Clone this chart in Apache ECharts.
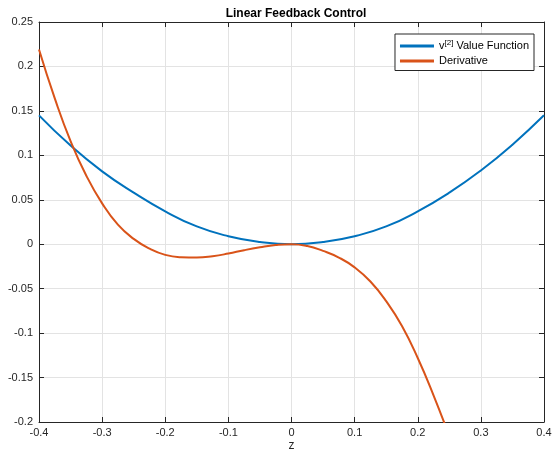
<!DOCTYPE html>
<html>
<head>
<meta charset="utf-8">
<script src="https://cdn.jsdelivr.net/npm/echarts@6/dist/echarts.min.js"></script>
<style>
  html, body { margin: 0; padding: 0; background: #fff; }
  #chart { width: 556px; height: 455px; }
</style>
</head>
<body>
<div id="chart"></div>
<script>
// value function samples
const zValue = [-0.4, -0.35, -0.3, -0.25, -0.2, -0.15, -0.1, -0.05, 0, 0.05, 0.1, 0.15, 0.2, 0.25, 0.3, 0.35, 0.4];
const valueFn = [0.145, 0.111, 0.082, 0.058, 0.037, 0.020, 0.009, 0.0025, 0, 0.0025, 0.009, 0.020, 0.037, 0.058, 0.083, 0.112, 0.145];

// derivative samples
const zDeriv = [-0.4, -0.375, -0.35, -0.325, -0.3, -0.275, -0.25, -0.225, -0.2, -0.175, -0.15, -0.125, -0.1, -0.075, -0.05, -0.025, 0,
  0.025, 0.05, 0.075, 0.1, 0.125, 0.15, 0.175, 0.2, 0.225, 0.25];
const derivative = [0.219, 0.164, 0.116, 0.077, 0.046, 0.022, 0.006, -0.005, -0.012, -0.0146, -0.015, -0.0135, -0.0105, -0.0067, -0.0035, -0.001, 0,
  -0.002, -0.0075, -0.015, -0.026, -0.042, -0.064, -0.092, -0.128, -0.170, -0.216];

const FONT = 'Liberation Sans, Arial, Helvetica, sans-serif';
const AXIS = '#262626';

const chart = echarts.init(document.getElementById('chart'));

const hiddenAxis = {
  show: true,
  axisLine: { show: true, onZero: false, lineStyle: { color: AXIS, width: 1 } },
  axisTick: { show: true, inside: true, length: 5, lineStyle: { color: AXIS } },
  axisLabel: { show: false },
  splitLine: { show: false }
};

const option = {
  animation: false,
  title: {
    text: 'Linear Feedback Control',
    left: 291,
    textAlign: 'center',
    top: 3,
    textStyle: { fontFamily: FONT, fontSize: 12, fontWeight: 'bold', color: '#000' }
  },
  grid: { left: 39, right: 12, top: 22, bottom: 33, outerBoundsMode: 'none' },
  legend: {
    right: 22,
    top: 34,
    orient: 'vertical',
    itemWidth: 34,
    itemHeight: 3,
    itemGap: 4,
    padding: [5, 5, 4, 5],
    borderColor: AXIS,
    borderWidth: 1,
    backgroundColor: '#fff',
    icon: 'rect',
    textStyle: {
      fontFamily: FONT, fontSize: 11, color: '#000',
      rich: { sup: { fontSize: 8, verticalAlign: 'top', padding: [0, 0, 6, 0], fontFamily: FONT } }
    },
    formatter: function (name) {
      return name === 'value' ? 'v{sup|[2]} Value Function' : 'Derivative';
    },
    data: ['value', 'deriv']
  },
  xAxis: [{
    type: 'value',
    min: -0.4, max: 0.4, interval: 0.1,
    name: 'z',
    nameLocation: 'middle',
    nameMoveOverlap: false,
    nameGap: 18,
    nameTextStyle: { fontFamily: FONT, fontSize: 12, color: AXIS },
    axisLine: { onZero: false, lineStyle: { color: AXIS, width: 1 } },
    axisTick: { inside: true, length: 5, lineStyle: { color: AXIS } },
    axisLabel: { fontFamily: FONT, fontSize: 11, color: AXIS, margin: 5 },
    splitLine: { show: true, lineStyle: { color: '#e3e3e3', width: 1 } }
  }, Object.assign({ type: 'value', position: 'top', min: -0.4, max: 0.4, interval: 0.1 }, hiddenAxis)],
  yAxis: [{
    type: 'value',
    min: -0.2, max: 0.25, interval: 0.05,
    axisLine: { show: true, onZero: false, lineStyle: { color: AXIS, width: 1 } },
    axisTick: { show: true, inside: true, length: 5, lineStyle: { color: AXIS } },
    axisLabel: { fontFamily: FONT, fontSize: 11, color: AXIS, margin: 6 },
    splitLine: { show: true, lineStyle: { color: '#e3e3e3', width: 1 } }
  }, Object.assign({ type: 'value', position: 'right', min: -0.2, max: 0.25, interval: 0.05 }, hiddenAxis)],
  series: [
    {
      name: 'value',
      type: 'line',
      data: zValue.map((z, i) => [z, valueFn[i]]),
      smooth: 0.5,
      showSymbol: false,
      lineStyle: { color: '#0072BD', width: 2 },
      itemStyle: { color: '#0072BD' },
      z: 3
    },
    {
      name: 'deriv',
      type: 'line',
      data: zDeriv.map((z, i) => [z, derivative[i]]),
      smooth: 0.5,
      showSymbol: false,
      clip: true,
      lineStyle: { color: '#D95319', width: 2 },
      itemStyle: { color: '#D95319' },
      z: 4
    }
  ]
};

chart.setOption(option);
</script>
</body>
</html>
